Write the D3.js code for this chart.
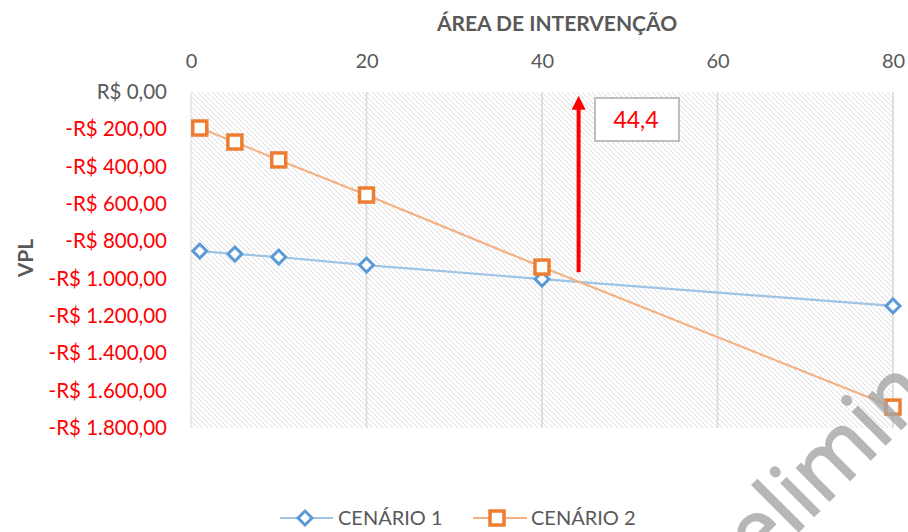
<!DOCTYPE html>
<html>
<head>
<meta charset="utf-8">
<script src="https://cdn.jsdelivr.net/npm/d3@7"></script>
<style>
  body { margin: 0; background: #fff; }
  svg { display: block; font-family: Lato, "Open Sans", sans-serif; }
</style>
</head>
<body>
<svg id="chart" width="908" height="532"></svg>
<script>
// area (x) values shared by both scenarios
var areas = [1, 5, 10, 20, 40, 80];
// VPL values
var cenario1 = [-852, -868, -884, -927, -1002, -1146];
var cenario2 = [-193, -268, -364, -552, -938, -1688];
var seriesNames = ['CENÁRIO 1', 'CENÁRIO 2'];
var xTicks = [0, 20, 40, 60, 80];
var yTicks = [0, -200, -400, -600, -800, -1000, -1200, -1400, -1600, -1800];
var breakEven = 44.4;
var arrowRange = [-965, -20];

(function () {
    var svg = d3.select('#chart');
    var pLeft = 191, pRight = 893, pTop = 92, pBottom = 428;

    var x = d3.scaleLinear().domain([0, 80]).range([pLeft, pRight]);
    var y = d3.scaleLinear().domain([0, -1800]).range([pTop, pBottom]);

    var br = d3.formatLocale({
        decimal: ',', thousands: '.', grouping: [3],
        currency: ['R$ ', ''], minus: '-'
    });
    var money = br.format('$,.2f');

    // hatch pattern for plot background
    var defs = svg.append('defs');
    var pat = defs.append('pattern')
        .attr('id', 'hatch')
        .attr('patternUnits', 'userSpaceOnUse')
        .attr('width', 5).attr('height', 5);
    pat.append('path')
        .attr('d', 'M-1,-1 L6,6 M-1,4 L1,6 M4,-1 L6,1')
        .attr('stroke', '#dadada').attr('stroke-width', 0.95);

    svg.append('rect')
        .attr('x', pLeft).attr('y', pTop)
        .attr('width', pRight - pLeft).attr('height', pBottom - pTop)
        .attr('fill', 'url(#hatch)');

    // vertical gridlines
    svg.append('g').selectAll('line')
        .data(xTicks)
        .join('line')
        .attr('x1', d => x(d)).attr('x2', d => x(d))
        .attr('y1', pTop).attr('y2', pBottom)
        .attr('stroke', '#d9d9d9').attr('stroke-width', d => d === 0 ? 1 : 1.6);

    // top axis labels
    var xAxis = d3.axisTop(x).tickValues(xTicks).tickSize(0).tickPadding(0);
    var gx = svg.append('g').attr('transform', 'translate(0,68)').call(xAxis);
    gx.select('.domain').remove();
    gx.selectAll('text')
        .attr('font-size', 20).attr('fill', '#595959')
        .attr('font-family', 'Lato, sans-serif');

    // left axis labels
    var yAxis = d3.axisLeft(y).tickValues(yTicks).tickSize(0).tickPadding(0).tickFormat(money);
    var gy = svg.append('g').attr('transform', 'translate(167,0)').call(yAxis);
    gy.select('.domain').remove();
    gy.selectAll('text')
        .attr('font-size', 20.5)
        .attr('font-family', 'Lato, sans-serif')
        .attr('fill', d => d < 0 ? '#ff0000' : '#595959');

    // axis titles
    svg.append('text')
        .attr('x', 557).attr('y', 31)
        .attr('text-anchor', 'middle')
        .attr('font-size', 21).attr('font-weight', 'bold').attr('fill', '#595959')
        .text('ÁREA DE INTERVENÇÃO');
    svg.append('text')
        .attr('transform', 'translate(33,258) rotate(-90)')
        .attr('text-anchor', 'middle')
        .attr('font-size', 21).attr('font-weight', 'bold').attr('fill', '#595959')
        .text('VPL');

    // lines
    var line = d3.line().x(d => x(d[0])).y(d => y(d[1]));
    var s1 = areas.map((a, i) => [a, cenario1[i]]);
    var s2 = areas.map((a, i) => [a, cenario2[i]]);

    svg.append('path').datum(s1).attr('d', line)
        .attr('fill', 'none').attr('stroke', '#9dc3e6').attr('stroke-width', 2.2);
    svg.append('path').datum(s2).attr('d', line)
        .attr('fill', 'none').attr('stroke', '#f4b183').attr('stroke-width', 2.2);

    // markers
    var diamond = d3.symbol().type(d3.symbolSquare).size(98);
    svg.append('g').selectAll('path')
        .data(s1)
        .join('path')
        .attr('d', diamond)
        .attr('transform', d => 'translate(' + x(d[0]) + ',' + y(d[1]) + ') rotate(45)')
        .attr('fill', '#fff').attr('stroke', '#5b9bd5').attr('stroke-width', 3);

    svg.append('g').selectAll('rect')
        .data(s2)
        .join('rect')
        .attr('x', d => x(d[0]) - 7).attr('y', d => y(d[1]) - 7)
        .attr('width', 14).attr('height', 14)
        .attr('fill', '#fff').attr('stroke', '#ed7d31').attr('stroke-width', 3.5);

    // break-even arrow
    var ax = x(breakEven) - 2;
    var tipY = y(arrowRange[1]);
    svg.append('line')
        .attr('x1', ax).attr('x2', ax)
        .attr('y1', y(arrowRange[0])).attr('y2', tipY + 12)
        .attr('stroke', '#ff0000').attr('stroke-width', 4);
    svg.append('path')
        .attr('d', 'M' + (ax - 7) + ',' + (tipY + 14) + ' L' + ax + ',' + tipY +
            ' L' + (ax + 7) + ',' + (tipY + 14) + 'Z')
        .attr('fill', '#ff0000');

    // label box
    svg.append('rect')
        .attr('x', 595).attr('y', 98).attr('width', 84).attr('height', 43)
        .attr('fill', '#fff').attr('stroke', '#bfbfbf').attr('stroke-width', 2);
    svg.append('text')
        .attr('x', 636).attr('y', 128)
        .attr('text-anchor', 'middle')
        .attr('font-size', 23).attr('fill', '#ff0000')
        .text(String(breakEven).replace('.', ','));

    // legend
    var leg = svg.append('g');
    leg.append('line').attr('x1', 280).attr('x2', 333).attr('y1', 518).attr('y2', 518)
        .attr('stroke', '#9dc3e6').attr('stroke-width', 2.2);
    leg.append('path').attr('d', diamond)
        .attr('transform', 'translate(305,518) rotate(45)')
        .attr('fill', '#fff').attr('stroke', '#5b9bd5').attr('stroke-width', 3);
    leg.append('text').attr('x', 338).attr('y', 525)
        .attr('font-size', 20).attr('fill', '#595959').text(seriesNames[0]);

    leg.append('line').attr('x1', 473).attr('x2', 527).attr('y1', 518).attr('y2', 518)
        .attr('stroke', '#f4b183').attr('stroke-width', 2.2);
    leg.append('rect').attr('x', 490).attr('y', 511).attr('width', 14).attr('height', 14)
        .attr('fill', '#fff').attr('stroke', '#ed7d31').attr('stroke-width', 3.5);
    leg.append('text').attr('x', 531).attr('y', 525)
        .attr('font-size', 20).attr('fill', '#595959').text(seriesNames[1]);

    // watermark
    svg.append('text')
        .attr('transform', 'translate(698,632) rotate(-45)')
        .attr('font-size', 86).attr('fill', '#a6a6a6').attr('opacity', 0.8)
        .attr('stroke', '#a6a6a6').attr('stroke-width', 2)
        .attr('font-family', '"Open Sans", sans-serif')
        .text('Preliminar');
})();
</script>
</body>
</html>
